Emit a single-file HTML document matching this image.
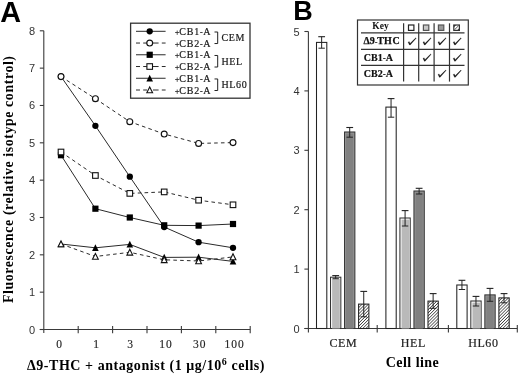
<!DOCTYPE html><html><head><meta charset="utf-8"><style>
html,body{margin:0;padding:0;background:#fff;width:520px;height:374px;overflow:hidden}
svg{display:block;filter:grayscale(1)}
.sans{font-family:"Liberation Sans",sans-serif}
.serif{font-family:"Liberation Serif",serif}
</style></head><body>
<svg width="520" height="374" viewBox="0 0 520 374">
<defs><pattern id="hatch" patternUnits="userSpaceOnUse" width="2.2" height="2.2" patternTransform="rotate(45)"><rect width="2.2" height="2.2" fill="#fff"/><line x1="0" y1="0" x2="0" y2="2.2" stroke="#000" stroke-width="1.1"/></pattern></defs>
<text x="0.2" y="21.9" class="sans" font-weight="bold" font-size="28.8" fill="#000">A</text>
<line x1="43.8" y1="30.80000000000001" x2="43.8" y2="333.1" stroke="#3a3a3a" stroke-width="1.1"/>
<line x1="39.8" y1="329.5" x2="250.2" y2="329.5" stroke="#3a3a3a" stroke-width="1.1"/>
<line x1="39.8" y1="329.50" x2="43.8" y2="329.50" stroke="#3a3a3a" stroke-width="1.1"/>
<text x="35" y="333.50" text-anchor="end" class="sans" font-size="11" fill="#333">0</text>
<line x1="39.8" y1="292.16" x2="43.8" y2="292.16" stroke="#3a3a3a" stroke-width="1.1"/>
<text x="35" y="296.16" text-anchor="end" class="sans" font-size="11" fill="#333">1</text>
<line x1="39.8" y1="254.82" x2="43.8" y2="254.82" stroke="#3a3a3a" stroke-width="1.1"/>
<text x="35" y="258.82" text-anchor="end" class="sans" font-size="11" fill="#333">2</text>
<line x1="39.8" y1="217.49" x2="43.8" y2="217.49" stroke="#3a3a3a" stroke-width="1.1"/>
<text x="35" y="221.49" text-anchor="end" class="sans" font-size="11" fill="#333">3</text>
<line x1="39.8" y1="180.15" x2="43.8" y2="180.15" stroke="#3a3a3a" stroke-width="1.1"/>
<text x="35" y="184.15" text-anchor="end" class="sans" font-size="11" fill="#333">4</text>
<line x1="39.8" y1="142.81" x2="43.8" y2="142.81" stroke="#3a3a3a" stroke-width="1.1"/>
<text x="35" y="146.81" text-anchor="end" class="sans" font-size="11" fill="#333">5</text>
<line x1="39.8" y1="105.48" x2="43.8" y2="105.48" stroke="#3a3a3a" stroke-width="1.1"/>
<text x="35" y="109.48" text-anchor="end" class="sans" font-size="11" fill="#333">6</text>
<line x1="39.8" y1="68.14" x2="43.8" y2="68.14" stroke="#3a3a3a" stroke-width="1.1"/>
<text x="35" y="72.14" text-anchor="end" class="sans" font-size="11" fill="#333">7</text>
<line x1="39.8" y1="30.80" x2="43.8" y2="30.80" stroke="#3a3a3a" stroke-width="1.1"/>
<text x="35" y="34.80" text-anchor="end" class="sans" font-size="11" fill="#333">8</text>
<line x1="78.20" y1="325.9" x2="78.20" y2="333.3" stroke="#3a3a3a" stroke-width="1.1"/>
<line x1="112.60" y1="325.9" x2="112.60" y2="333.3" stroke="#3a3a3a" stroke-width="1.1"/>
<line x1="147.00" y1="325.9" x2="147.00" y2="333.3" stroke="#3a3a3a" stroke-width="1.1"/>
<line x1="181.40" y1="325.9" x2="181.40" y2="333.3" stroke="#3a3a3a" stroke-width="1.1"/>
<line x1="215.80" y1="325.9" x2="215.80" y2="333.3" stroke="#3a3a3a" stroke-width="1.1"/>
<line x1="250.20" y1="325.9" x2="250.20" y2="333.3" stroke="#3a3a3a" stroke-width="1.1"/>
<text x="59.60" y="348" text-anchor="middle" class="serif" font-size="11.5" letter-spacing="1" fill="#222" stroke="#222" stroke-width="0.15">0</text>
<text x="96.50" y="348" text-anchor="middle" class="serif" font-size="11.5" letter-spacing="1" fill="#222" stroke="#222" stroke-width="0.15">1</text>
<text x="130.60" y="348" text-anchor="middle" class="serif" font-size="11.5" letter-spacing="1" fill="#222" stroke="#222" stroke-width="0.15">3</text>
<text x="166.10" y="348" text-anchor="middle" class="serif" font-size="11.5" letter-spacing="1" fill="#222" stroke="#222" stroke-width="0.15">10</text>
<text x="199.80" y="348" text-anchor="middle" class="serif" font-size="11.5" letter-spacing="1" fill="#222" stroke="#222" stroke-width="0.15">30</text>
<text x="234.50" y="348" text-anchor="middle" class="serif" font-size="11.5" letter-spacing="1" fill="#222" stroke="#222" stroke-width="0.15">100</text>
<text transform="translate(13,179.2) rotate(-90)" text-anchor="middle" class="serif" font-weight="bold" font-size="13.8" letter-spacing="0.62" fill="#000">Fluorescence (relative isotype control)</text>
<text x="146" y="370" text-anchor="middle" class="serif" font-weight="bold" font-size="14" letter-spacing="0.55" fill="#000">&#916;9-THC + antagonist (1 &#956;g/10<tspan dy="-5" font-size="10">6</tspan><tspan dy="5"> cells)</tspan></text>
<polyline points="61.00,244.00 95.40,247.80 129.80,244.40 164.20,257.40 198.60,257.20 233.00,261.40" fill="none" stroke="#2a2a2a" stroke-width="1"/>
<polyline points="61.00,244.00 95.40,256.50 129.80,252.30 164.20,259.80 198.60,261.00 233.00,256.90" fill="none" stroke="#2a2a2a" stroke-width="1" stroke-dasharray="3.6,3.2"/>
<polyline points="61.00,155.20 95.40,208.70 129.80,217.50 164.20,225.30 198.60,225.60 233.00,224.00" fill="none" stroke="#2a2a2a" stroke-width="1"/>
<polyline points="61.00,152.00 95.40,175.50 129.80,193.40 164.20,191.90 198.60,200.20 233.00,204.80" fill="none" stroke="#2a2a2a" stroke-width="1" stroke-dasharray="3.6,3.2"/>
<polyline points="61.00,76.60 95.40,125.80 129.80,176.70 164.20,227.00 198.60,242.20 233.00,247.80" fill="none" stroke="#2a2a2a" stroke-width="1"/>
<polyline points="61.00,76.60 95.40,98.70 129.80,121.70 164.20,134.00 198.60,143.40 233.00,142.60" fill="none" stroke="#2a2a2a" stroke-width="1" stroke-dasharray="3.6,3.2"/>
<polygon points="61.00,240.40 57.70,247.20 64.30,247.20" fill="#000"/>
<polygon points="95.40,244.20 92.10,251.00 98.70,251.00" fill="#000"/>
<polygon points="129.80,240.80 126.50,247.60 133.10,247.60" fill="#000"/>
<polygon points="164.20,253.80 160.90,260.60 167.50,260.60" fill="#000"/>
<polygon points="198.60,253.60 195.30,260.40 201.90,260.40" fill="#000"/>
<polygon points="233.00,257.80 229.70,264.60 236.30,264.60" fill="#000"/>
<polygon points="61.00,240.90 58.10,246.80 63.90,246.80" fill="#fff" stroke="#111" stroke-width="1.1"/>
<polygon points="95.40,253.40 92.50,259.30 98.30,259.30" fill="#fff" stroke="#111" stroke-width="1.1"/>
<polygon points="129.80,249.20 126.90,255.10 132.70,255.10" fill="#fff" stroke="#111" stroke-width="1.1"/>
<polygon points="164.20,256.70 161.30,262.60 167.10,262.60" fill="#fff" stroke="#111" stroke-width="1.1"/>
<polygon points="198.60,257.90 195.70,263.80 201.50,263.80" fill="#fff" stroke="#111" stroke-width="1.1"/>
<polygon points="233.00,253.80 230.10,259.70 235.90,259.70" fill="#fff" stroke="#111" stroke-width="1.1"/>
<rect x="57.90" y="152.10" width="6.20" height="6.20" fill="#000"/>
<rect x="92.30" y="205.60" width="6.20" height="6.20" fill="#000"/>
<rect x="126.70" y="214.40" width="6.20" height="6.20" fill="#000"/>
<rect x="161.10" y="222.20" width="6.20" height="6.20" fill="#000"/>
<rect x="195.50" y="222.50" width="6.20" height="6.20" fill="#000"/>
<rect x="229.90" y="220.90" width="6.20" height="6.20" fill="#000"/>
<rect x="58.20" y="149.20" width="5.60" height="5.60" fill="#fff" stroke="#111" stroke-width="1.1"/>
<rect x="92.60" y="172.70" width="5.60" height="5.60" fill="#fff" stroke="#111" stroke-width="1.1"/>
<rect x="127.00" y="190.60" width="5.60" height="5.60" fill="#fff" stroke="#111" stroke-width="1.1"/>
<rect x="161.40" y="189.10" width="5.60" height="5.60" fill="#fff" stroke="#111" stroke-width="1.1"/>
<rect x="195.80" y="197.40" width="5.60" height="5.60" fill="#fff" stroke="#111" stroke-width="1.1"/>
<rect x="230.20" y="202.00" width="5.60" height="5.60" fill="#fff" stroke="#111" stroke-width="1.1"/>
<circle cx="61.00" cy="76.60" r="3.15" fill="#000"/>
<circle cx="95.40" cy="125.80" r="3.15" fill="#000"/>
<circle cx="129.80" cy="176.70" r="3.15" fill="#000"/>
<circle cx="164.20" cy="227.00" r="3.15" fill="#000"/>
<circle cx="198.60" cy="242.20" r="3.15" fill="#000"/>
<circle cx="233.00" cy="247.80" r="3.15" fill="#000"/>
<circle cx="61.00" cy="76.60" r="2.95" fill="#fff" stroke="#111" stroke-width="1.15"/>
<circle cx="95.40" cy="98.70" r="2.95" fill="#fff" stroke="#111" stroke-width="1.15"/>
<circle cx="129.80" cy="121.70" r="2.95" fill="#fff" stroke="#111" stroke-width="1.15"/>
<circle cx="164.20" cy="134.00" r="2.95" fill="#fff" stroke="#111" stroke-width="1.15"/>
<circle cx="198.60" cy="143.40" r="2.95" fill="#fff" stroke="#111" stroke-width="1.15"/>
<circle cx="233.00" cy="142.60" r="2.95" fill="#fff" stroke="#111" stroke-width="1.15"/>
<rect x="130.6" y="23.2" width="119.4" height="75" fill="#fff" stroke="#333" stroke-width="1.3"/>
<line x1="136" y1="31.30" x2="165.6" y2="31.30" stroke="#2a2a2a" stroke-width="1"/>
<circle cx="149.70" cy="31.30" r="3.15" fill="#000"/>
<text x="174.8" y="34.90" class="serif" font-size="10" letter-spacing="0.75" fill="#1a1a1a" stroke="#1a1a1a" stroke-width="0.2"><tspan font-size="8.5" letter-spacing="-0.3">+</tspan>CB1<tspan font-size="8">-</tspan>A</text>
<line x1="136" y1="43.04" x2="140" y2="43.04" stroke="#2a2a2a" stroke-width="1"/>
<line x1="143.2" y1="43.04" x2="147" y2="43.04" stroke="#2a2a2a" stroke-width="1"/>
<line x1="153" y1="43.04" x2="158.6" y2="43.04" stroke="#2a2a2a" stroke-width="1"/>
<line x1="161.8" y1="43.04" x2="165.6" y2="43.04" stroke="#2a2a2a" stroke-width="1"/>
<circle cx="149.70" cy="43.04" r="2.95" fill="#fff" stroke="#111" stroke-width="1.15"/>
<text x="174.8" y="46.64" class="serif" font-size="10" letter-spacing="0.75" fill="#1a1a1a" stroke="#1a1a1a" stroke-width="0.2"><tspan font-size="8.5" letter-spacing="-0.3">+</tspan>CB2<tspan font-size="8">-</tspan>A</text>
<line x1="136" y1="54.78" x2="165.6" y2="54.78" stroke="#2a2a2a" stroke-width="1"/>
<rect x="146.60" y="51.68" width="6.20" height="6.20" fill="#000"/>
<text x="174.8" y="58.38" class="serif" font-size="10" letter-spacing="0.75" fill="#1a1a1a" stroke="#1a1a1a" stroke-width="0.2"><tspan font-size="8.5" letter-spacing="-0.3">+</tspan>CB1<tspan font-size="8">-</tspan>A</text>
<line x1="136" y1="66.52" x2="140" y2="66.52" stroke="#2a2a2a" stroke-width="1"/>
<line x1="143.2" y1="66.52" x2="147" y2="66.52" stroke="#2a2a2a" stroke-width="1"/>
<line x1="153" y1="66.52" x2="158.6" y2="66.52" stroke="#2a2a2a" stroke-width="1"/>
<line x1="161.8" y1="66.52" x2="165.6" y2="66.52" stroke="#2a2a2a" stroke-width="1"/>
<rect x="146.90" y="63.72" width="5.60" height="5.60" fill="#fff" stroke="#111" stroke-width="1.1"/>
<text x="174.8" y="70.12" class="serif" font-size="10" letter-spacing="0.75" fill="#1a1a1a" stroke="#1a1a1a" stroke-width="0.2"><tspan font-size="8.5" letter-spacing="-0.3">+</tspan>CB2<tspan font-size="8">-</tspan>A</text>
<line x1="136" y1="78.26" x2="165.6" y2="78.26" stroke="#2a2a2a" stroke-width="1"/>
<polygon points="149.70,74.66 146.40,81.46 153.00,81.46" fill="#000"/>
<text x="174.8" y="81.86" class="serif" font-size="10" letter-spacing="0.75" fill="#1a1a1a" stroke="#1a1a1a" stroke-width="0.2"><tspan font-size="8.5" letter-spacing="-0.3">+</tspan>CB1<tspan font-size="8">-</tspan>A</text>
<line x1="136" y1="90.00" x2="140" y2="90.00" stroke="#2a2a2a" stroke-width="1"/>
<line x1="143.2" y1="90.00" x2="147" y2="90.00" stroke="#2a2a2a" stroke-width="1"/>
<line x1="153" y1="90.00" x2="158.6" y2="90.00" stroke="#2a2a2a" stroke-width="1"/>
<line x1="161.8" y1="90.00" x2="165.6" y2="90.00" stroke="#2a2a2a" stroke-width="1"/>
<polygon points="149.70,86.90 146.80,92.80 152.60,92.80" fill="#fff" stroke="#111" stroke-width="1.1"/>
<text x="174.8" y="93.60" class="serif" font-size="10" letter-spacing="0.75" fill="#1a1a1a" stroke="#1a1a1a" stroke-width="0.2"><tspan font-size="8.5" letter-spacing="-0.3">+</tspan>CB2<tspan font-size="8">-</tspan>A</text>
<polyline points="214.5,32.00 217.7,32.00 217.7,43.54 214.5,43.54" fill="none" stroke="#222" stroke-width="1"/>
<text x="221.5" y="41.37" class="serif" font-size="10" letter-spacing="0.6" fill="#1a1a1a" stroke="#1a1a1a" stroke-width="0.2">CEM</text>
<polyline points="214.5,55.48 217.7,55.48 217.7,67.02 214.5,67.02" fill="none" stroke="#222" stroke-width="1"/>
<text x="221.5" y="64.85" class="serif" font-size="10" letter-spacing="0.6" fill="#1a1a1a" stroke="#1a1a1a" stroke-width="0.2">HEL</text>
<polyline points="214.5,78.96 217.7,78.96 217.7,90.50 214.5,90.50" fill="none" stroke="#222" stroke-width="1"/>
<text x="221.5" y="88.33" class="serif" font-size="10" letter-spacing="0.6" fill="#1a1a1a" stroke="#1a1a1a" stroke-width="0.2">HL60</text>
<text x="293.2" y="20.1" class="sans" font-weight="bold" font-size="27" fill="#000">B</text>
<line x1="308.4" y1="31.5" x2="308.4" y2="332.5" stroke="#3a3a3a" stroke-width="1.1"/>
<line x1="304.4" y1="328.5" x2="517.3" y2="328.5" stroke="#3a3a3a" stroke-width="1.1"/>
<line x1="304.4" y1="328.50" x2="308.4" y2="328.50" stroke="#3a3a3a" stroke-width="1.1"/>
<text x="299.5" y="332.50" text-anchor="end" class="sans" font-size="11" fill="#333">0</text>
<line x1="304.4" y1="269.10" x2="308.4" y2="269.10" stroke="#3a3a3a" stroke-width="1.1"/>
<text x="299.5" y="273.10" text-anchor="end" class="sans" font-size="11" fill="#333">1</text>
<line x1="304.4" y1="209.70" x2="308.4" y2="209.70" stroke="#3a3a3a" stroke-width="1.1"/>
<text x="299.5" y="213.70" text-anchor="end" class="sans" font-size="11" fill="#333">2</text>
<line x1="304.4" y1="150.30" x2="308.4" y2="150.30" stroke="#3a3a3a" stroke-width="1.1"/>
<text x="299.5" y="154.30" text-anchor="end" class="sans" font-size="11" fill="#333">3</text>
<line x1="304.4" y1="90.90" x2="308.4" y2="90.90" stroke="#3a3a3a" stroke-width="1.1"/>
<text x="299.5" y="94.90" text-anchor="end" class="sans" font-size="11" fill="#333">4</text>
<line x1="304.4" y1="31.50" x2="308.4" y2="31.50" stroke="#3a3a3a" stroke-width="1.1"/>
<text x="299.5" y="35.50" text-anchor="end" class="sans" font-size="11" fill="#333">5</text>
<line x1="377.2" y1="324.9" x2="377.2" y2="332.5" stroke="#3a3a3a" stroke-width="1.1"/>
<line x1="448.4" y1="324.9" x2="448.4" y2="332.5" stroke="#3a3a3a" stroke-width="1.1"/>
<line x1="517.3" y1="324.9" x2="517.3" y2="332.5" stroke="#3a3a3a" stroke-width="1.1"/>
<text x="343.30" y="346.6" text-anchor="middle" class="serif" font-size="12" letter-spacing="0.6" fill="#222" stroke="#222" stroke-width="0.2">CEM</text>
<text x="413.30" y="346.6" text-anchor="middle" class="serif" font-size="12" letter-spacing="0.6" fill="#222" stroke="#222" stroke-width="0.2">HEL</text>
<text x="483.35" y="346.6" text-anchor="middle" class="serif" font-size="12" letter-spacing="0.6" fill="#222" stroke="#222" stroke-width="0.2">HL60</text>
<text x="412.5" y="367.4" text-anchor="middle" class="serif" font-weight="bold" font-size="14" letter-spacing="0.45" fill="#000">Cell line</text>
<rect x="316.50" y="42.40" width="10.3" height="286.10" fill="#fff" stroke="#222" stroke-width="1.05"/>
<line x1="321.65" y1="36.70" x2="321.65" y2="48.20" stroke="#222" stroke-width="1"/>
<line x1="318.25" y1="36.70" x2="325.05" y2="36.70" stroke="#222" stroke-width="1.1"/>
<line x1="318.45" y1="48.20" x2="324.85" y2="48.20" stroke="#222" stroke-width="1"/>
<rect x="330.53" y="277.20" width="10.3" height="51.30" fill="#fff" stroke="#333" stroke-width="1.05"/>
<rect x="332.13" y="278.80" width="7.70" height="49.70" fill="#b9b9b9"/>
<line x1="335.68" y1="275.60" x2="335.68" y2="278.70" stroke="#222" stroke-width="1"/>
<line x1="332.28" y1="275.60" x2="339.08" y2="275.60" stroke="#222" stroke-width="1.1"/>
<line x1="332.48" y1="278.70" x2="338.88" y2="278.70" stroke="#222" stroke-width="1"/>
<rect x="344.56" y="132.00" width="10.3" height="196.50" fill="#9a9a9a" stroke="#333" stroke-width="1.05"/>
<rect x="345.96" y="133.40" width="7.50" height="195.10" fill="#818181"/>
<line x1="349.71" y1="127.50" x2="349.71" y2="137.20" stroke="#222" stroke-width="1"/>
<line x1="346.31" y1="127.50" x2="353.11" y2="127.50" stroke="#222" stroke-width="1.1"/>
<line x1="346.51" y1="137.20" x2="352.91" y2="137.20" stroke="#222" stroke-width="1"/>
<rect x="358.59" y="304.10" width="10.3" height="24.40" fill="url(#hatch)" stroke="#222" stroke-width="1.05"/>
<line x1="363.74" y1="291.40" x2="363.74" y2="316.80" stroke="#222" stroke-width="1"/>
<line x1="360.34" y1="291.40" x2="367.14" y2="291.40" stroke="#222" stroke-width="1.1"/>
<line x1="360.54" y1="316.80" x2="366.94" y2="316.80" stroke="#222" stroke-width="1"/>
<rect x="385.90" y="107.10" width="10.3" height="221.40" fill="#fff" stroke="#222" stroke-width="1.05"/>
<line x1="391.05" y1="98.60" x2="391.05" y2="117.20" stroke="#222" stroke-width="1"/>
<line x1="387.65" y1="98.60" x2="394.45" y2="98.60" stroke="#222" stroke-width="1.1"/>
<line x1="387.85" y1="117.20" x2="394.25" y2="117.20" stroke="#222" stroke-width="1"/>
<rect x="399.93" y="218.00" width="10.3" height="110.50" fill="#fff" stroke="#333" stroke-width="1.05"/>
<rect x="401.53" y="219.60" width="7.70" height="108.90" fill="#b9b9b9"/>
<line x1="405.08" y1="210.60" x2="405.08" y2="226.00" stroke="#222" stroke-width="1"/>
<line x1="401.68" y1="210.60" x2="408.48" y2="210.60" stroke="#222" stroke-width="1.1"/>
<line x1="401.88" y1="226.00" x2="408.28" y2="226.00" stroke="#222" stroke-width="1"/>
<rect x="413.96" y="191.00" width="10.3" height="137.50" fill="#9a9a9a" stroke="#333" stroke-width="1.05"/>
<rect x="415.36" y="192.40" width="7.50" height="136.10" fill="#818181"/>
<line x1="419.11" y1="188.30" x2="419.11" y2="194.00" stroke="#222" stroke-width="1"/>
<line x1="415.71" y1="188.30" x2="422.51" y2="188.30" stroke="#222" stroke-width="1.1"/>
<line x1="415.91" y1="194.00" x2="422.31" y2="194.00" stroke="#222" stroke-width="1"/>
<rect x="427.99" y="301.10" width="10.3" height="27.40" fill="url(#hatch)" stroke="#222" stroke-width="1.05"/>
<line x1="433.14" y1="293.60" x2="433.14" y2="308.30" stroke="#222" stroke-width="1"/>
<line x1="429.74" y1="293.60" x2="436.54" y2="293.60" stroke="#222" stroke-width="1.1"/>
<line x1="429.94" y1="308.30" x2="436.34" y2="308.30" stroke="#222" stroke-width="1"/>
<rect x="456.80" y="285.00" width="10.3" height="43.50" fill="#fff" stroke="#222" stroke-width="1.05"/>
<line x1="461.95" y1="280.30" x2="461.95" y2="289.50" stroke="#222" stroke-width="1"/>
<line x1="458.55" y1="280.30" x2="465.35" y2="280.30" stroke="#222" stroke-width="1.1"/>
<line x1="458.75" y1="289.50" x2="465.15" y2="289.50" stroke="#222" stroke-width="1"/>
<rect x="470.83" y="301.00" width="10.3" height="27.50" fill="#fff" stroke="#333" stroke-width="1.05"/>
<rect x="472.43" y="302.60" width="7.70" height="25.90" fill="#b9b9b9"/>
<line x1="475.98" y1="296.40" x2="475.98" y2="306.00" stroke="#222" stroke-width="1"/>
<line x1="472.58" y1="296.40" x2="479.38" y2="296.40" stroke="#222" stroke-width="1.1"/>
<line x1="472.78" y1="306.00" x2="479.18" y2="306.00" stroke="#222" stroke-width="1"/>
<rect x="484.86" y="294.90" width="10.3" height="33.60" fill="#9a9a9a" stroke="#333" stroke-width="1.05"/>
<rect x="486.26" y="296.30" width="7.50" height="32.20" fill="#818181"/>
<line x1="490.01" y1="288.40" x2="490.01" y2="301.30" stroke="#222" stroke-width="1"/>
<line x1="486.61" y1="288.40" x2="493.41" y2="288.40" stroke="#222" stroke-width="1.1"/>
<line x1="486.81" y1="301.30" x2="493.21" y2="301.30" stroke="#222" stroke-width="1"/>
<rect x="498.89" y="297.90" width="10.3" height="30.60" fill="url(#hatch)" stroke="#222" stroke-width="1.05"/>
<line x1="504.04" y1="293.60" x2="504.04" y2="302.80" stroke="#222" stroke-width="1"/>
<line x1="500.64" y1="293.60" x2="507.44" y2="293.60" stroke="#222" stroke-width="1.1"/>
<line x1="500.84" y1="302.80" x2="507.24" y2="302.80" stroke="#222" stroke-width="1"/>
<rect x="357.5" y="20" width="110.80000000000001" height="65" fill="#fff" stroke="#333" stroke-width="1.2"/>
<line x1="361" y1="32.9" x2="464.5" y2="32.9" stroke="#333" stroke-width="1.2"/>
<line x1="361" y1="49.3" x2="464.5" y2="49.3" stroke="#333" stroke-width="1.2"/>
<line x1="361" y1="65.3" x2="464.5" y2="65.3" stroke="#333" stroke-width="1.2"/>
<line x1="403.6" y1="23.3" x2="403.6" y2="81.6" stroke="#333" stroke-width="1.2"/>
<line x1="418.7" y1="23.3" x2="418.7" y2="81.6" stroke="#333" stroke-width="1.2"/>
<line x1="434.1" y1="23.3" x2="434.1" y2="81.6" stroke="#333" stroke-width="1.2"/>
<line x1="449.5" y1="23.3" x2="449.5" y2="81.6" stroke="#333" stroke-width="1.2"/>
<text x="380.5" y="28.8" text-anchor="middle" class="serif" font-weight="bold" font-size="9.5" fill="#111">Key</text>
<text x="363.6" y="44.3" class="serif" font-weight="bold" font-size="10" letter-spacing="0" fill="#111" stroke="#111" stroke-width="0.25">&#916;9<tspan font-size="7" dy="-0.5">-</tspan><tspan dy="0.5">TH</tspan><tspan dx="0.8">C</tspan></text>
<text x="363.7" y="61.2" class="serif" font-weight="bold" font-size="10" letter-spacing="0.1" fill="#111" stroke="#111" stroke-width="0.2">CB1<tspan font-size="8">-</tspan>A</text>
<text x="363.7" y="77.3" class="serif" font-weight="bold" font-size="10" letter-spacing="0.1" fill="#111" stroke="#111" stroke-width="0.2">CB2<tspan font-size="8">-</tspan>A</text>
<rect x="408.50" y="25.0" width="5.4" height="5.4" fill="#fff" stroke="#222" stroke-width="1.2"/>
<rect x="423.40" y="25.0" width="5.4" height="5.4" fill="#c8c8c8" stroke="#555" stroke-width="1.2"/>
<rect x="438.40" y="25.0" width="5.4" height="5.4" fill="#9a9a9a" stroke="#555" stroke-width="1.2"/>
<rect x="453.80" y="25.0" width="5.6" height="5.4" fill="#fff" stroke="#333" stroke-width="1.2"/>
<polygon points="453.80,25.0 456.20,25.0 453.80,27.40" fill="#333"/>
<polygon points="459.40,30.40 457.00,30.40 459.40,28.00" fill="#333"/>
<line x1="454.40" y1="29.90" x2="458.80" y2="25.50" stroke="#444" stroke-width="0.9"/>
<path d="M408.10,42.30 L409.20,41.60 L410.00,43.50 L415.80,37.80 L416.20,38.20 L410.20,45.00 L409.50,45.00 Z" fill="#111" stroke="#111" stroke-width="0.25" stroke-linejoin="round"/>
<path d="M423.00,42.30 L424.10,41.60 L424.90,43.50 L430.70,37.80 L431.10,38.20 L425.10,45.00 L424.40,45.00 Z" fill="#111" stroke="#111" stroke-width="0.25" stroke-linejoin="round"/>
<path d="M438.00,42.30 L439.10,41.60 L439.90,43.50 L445.70,37.80 L446.10,38.20 L440.10,45.00 L439.40,45.00 Z" fill="#111" stroke="#111" stroke-width="0.25" stroke-linejoin="round"/>
<path d="M453.20,42.30 L454.30,41.60 L455.10,43.50 L460.90,37.80 L461.30,38.20 L455.30,45.00 L454.60,45.00 Z" fill="#111" stroke="#111" stroke-width="0.25" stroke-linejoin="round"/>
<path d="M423.00,58.50 L424.10,57.80 L424.90,59.70 L430.70,54.00 L431.10,54.40 L425.10,61.20 L424.40,61.20 Z" fill="#111" stroke="#111" stroke-width="0.25" stroke-linejoin="round"/>
<path d="M453.20,58.50 L454.30,57.80 L455.10,59.70 L460.90,54.00 L461.30,54.40 L455.30,61.20 L454.60,61.20 Z" fill="#111" stroke="#111" stroke-width="0.25" stroke-linejoin="round"/>
<path d="M438.00,74.60 L439.10,73.90 L439.90,75.80 L445.70,70.10 L446.10,70.50 L440.10,77.30 L439.40,77.30 Z" fill="#111" stroke="#111" stroke-width="0.25" stroke-linejoin="round"/>
<path d="M453.20,74.60 L454.30,73.90 L455.10,75.80 L460.90,70.10 L461.30,70.50 L455.30,77.30 L454.60,77.30 Z" fill="#111" stroke="#111" stroke-width="0.25" stroke-linejoin="round"/>
</svg></body></html>
